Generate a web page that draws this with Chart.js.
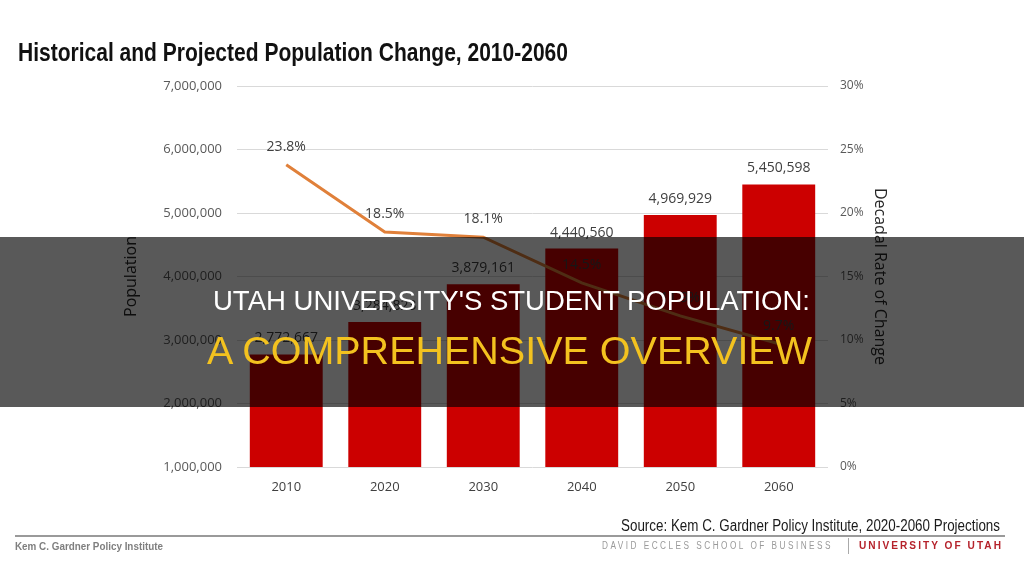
<!DOCTYPE html>
<html>
<head>
<meta charset="utf-8">
<script src="https://cdn.jsdelivr.net/npm/chart.js@4"></script>
<style>
  html, body { margin: 0; padding: 0; background: #ffffff; }
  #wrap { position: relative; width: 1024px; height: 577px; overflow: hidden; background: #fff; }
  #c { position: absolute; left: 0; top: 0; }
  .fit { position: absolute; white-space: nowrap; line-height: 1; transform-origin: 0 0; display: inline-block; }
  #band { position: absolute; left: 0; top: 237px; width: 1024px; height: 170px; background: rgba(0,0,0,0.65); }
  #rule { position: absolute; left: 15px; top: 535px; width: 990px; height: 2px; background: #9a9a9a; }
  #sep { position: absolute; left: 848px; top: 538px; width: 1px; height: 16px; background: #aaaaaa; }
</style>
</head>
<body>
<div id="wrap">
  <canvas id="c" width="1024" height="577"></canvas>
  <div class="fit" data-w="550" style="left:18px; top:37px; font: bold 26px 'Liberation Sans Narrow', 'Liberation Sans', sans-serif; color:#111;">Historical and Projected Population Change, 2010-2060</div>
  <div class="fit" data-w="379" style="left:621px; top:517px; font: 16px 'Liberation Sans Narrow', 'Liberation Sans', sans-serif; color:#1a1a1a;">Source: Kem C. Gardner Policy Institute, 2020-2060 Projections</div>
  <div id="rule"></div>
  <div class="fit" data-w="148" style="left:15px; top:540px; font: bold 11px 'Liberation Sans Narrow', 'Liberation Sans', sans-serif; color:#7f7f7f;">Kem C. Gardner Policy Institute</div>
  <div class="fit" data-w="231" style="left:602px; top:540px; font: 10px 'Liberation Sans', sans-serif; letter-spacing:3px; color:#9a9a9a;">DAVID ECCLES SCHOOL OF BUSINESS</div>
  <div id="sep"></div>
  <div class="fit" data-w="144" style="left:859px; top:540px; font: bold 10px 'Liberation Sans', sans-serif; letter-spacing:2px; color:#b5222b;">UNIVERSITY OF UTAH</div>
  <div id="band"></div>
  <div class="fit" data-w="597" style="left:213px; top:286px; font: 27px 'Liberation Sans', Arial, sans-serif; color:#ffffff;">UTAH UNIVERSITY'S STUDENT POPULATION:</div>
  <div class="fit" data-w="605" style="left:207px; top:330px; font: 38px 'Liberation Sans', Arial, sans-serif; color:#f3c21f;">A COMPREHENSIVE OVERVIEW</div>
</div>
<script>
// ---- data ----
const years = ['2010', '2020', '2030', '2040', '2050', '2060'];
const population = [2772667, 3284823, 3879161, 4440560, 4969929, 5450598];
const rateOfChange = [23.8, 18.5, 18.1, 14.5, 11.9, 9.7];
const populationAxis = { min: 1000000, max: 7000000, step: 1000000 };
const rateAxis = { min: 0, max: 30, step: 5 };

function fitTexts() {
  document.querySelectorAll('.fit').forEach(el => {
    el.style.transform = 'none';
    const w = el.getBoundingClientRect().width;
    const target = parseFloat(el.dataset.w);
    if (w > 0) el.style.transform = 'scaleX(' + (target / w) + ')';
  });
}

const valueLabels = {
  id: 'valueLabels',
  afterDatasetsDraw(chart) {
    const ctx = chart.ctx;
    ctx.save();
    ctx.font = '14px "Open Sans", sans-serif';
    ctx.fillStyle = '#404040';
    ctx.textAlign = 'center';
    ctx.textBaseline = 'middle';
    chart.getDatasetMeta(0).data.forEach((el, i) => {
      ctx.fillText(population[i].toLocaleString('en-US'), el.x, el.y - 16);
    });
    chart.getDatasetMeta(1).data.forEach((el, i) => {
      ctx.fillText(rateOfChange[i].toFixed(1) + '%', el.x, el.y - 18);
    });
    ctx.restore();
  }
};

function draw() {
  new Chart(document.getElementById('c'), {
    data: {
      labels: years,
      datasets: [
        {
          type: 'bar',
          label: 'Population',
          data: population,
          backgroundColor: 'rgb(204,0,0)',
          yAxisID: 'y',
          barPercentage: 0.74,
          categoryPercentage: 1.0,
          order: 1
        },
        {
          type: 'line',
          label: 'Decadal Rate of Change',
          data: rateOfChange,
          borderColor: 'rgb(224,128,58)',
          borderWidth: 3,
          pointRadius: 0,
          tension: 0,
          yAxisID: 'y1',
          order: 0
        }
      ]
    },
    options: {
      responsive: false,
      animation: false,
      events: [],
      layout: { padding: { left: 122, right: 135, top: 86, bottom: 70 } },
      plugins: { legend: { display: false }, tooltip: { enabled: false } },
      scales: {
        x: {
          grid: { display: false, drawTicks: false },
          border: { display: false },
          ticks: { padding: 12, color: '#404040', font: { family: 'Open Sans', size: 13 } },
          afterFit(s) { s.height = 40; }
        },
        y: {
          position: 'left',
          min: populationAxis.min,
          max: populationAxis.max,
          grid: { color: '#d9d9d9', lineWidth: 1, drawTicks: false },
          border: { display: false },
          ticks: {
            stepSize: populationAxis.step,
            padding: 15,
            color: '#595959',
            font: { family: 'Open Sans', size: 13 },
            callback: v => Number(v).toLocaleString('en-US')
          },
          title: { display: true, text: 'Population', color: '#262626', padding: 0, font: { family: 'Open Sans', size: 16 } },
          afterFit(s) { s.width = 237 - 122; }
        },
        y1: {
          position: 'right',
          min: rateAxis.min,
          max: rateAxis.max,
          grid: { display: false, drawTicks: false },
          border: { display: false },
          ticks: {
            stepSize: rateAxis.step,
            padding: 12,
            color: '#595959',
            font: { family: 'Open Sans', size: 12 },
            callback: v => v + '%'
          },
          title: { display: true, text: 'Decadal Rate of Change', color: '#262626', padding: 0, font: { family: 'Open Sans', size: 16 } },
          afterFit(s) { s.width = 1024 - 135 - 828; }
        }
      }
    },
    plugins: [valueLabels]
  });
}

(document.fonts && document.fonts.ready ? document.fonts.ready : Promise.resolve()).then(() => {
  fitTexts();
  draw();
});
</script>
</body>
</html>
